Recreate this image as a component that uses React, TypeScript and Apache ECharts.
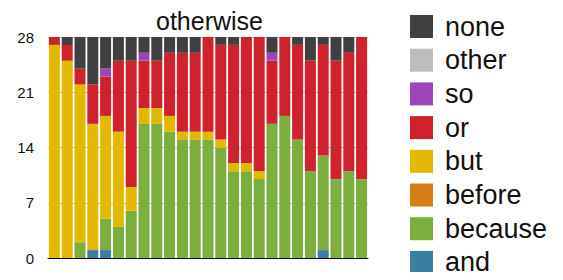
import React, { useEffect, useRef } from "react";
import * as echarts from "echarts";

const categories = Array.from({ length: 25 }, (_, i) => String(i + 1));
const seriesNames = ["and", "because", "before", "but", "or", "so", "other", "none"];
const legendOrder = ["none", "other", "so", "or", "but", "before", "because", "and"];
const colors: Record<string, string> = {
  none: "#404040",
  other: "#bdbdbd",
  so: "#9d45ba",
  or: "#d0222b",
  but: "#e3b800",
  before: "#d47f13",
  because: "#7bae3c",
  and: "#3a7ea1",
};

const andVals = [0, 0, 0, 1, 1, 0, 0, 0, 0, 0, 0, 0, 0, 0, 0, 0, 0, 0, 0, 0, 0, 1, 0, 0, 0];
const becauseVals = [0, 0, 2, 0, 4, 4, 6, 17, 17, 16, 15, 15, 15, 14, 11, 11, 10, 17, 18, 15, 11, 12, 10, 11, 10];
const beforeVals = [0, 0, 0, 0, 0, 0, 0, 0, 0, 0, 0, 0, 0, 0, 0, 0, 0, 0, 0, 0, 0, 0, 0, 0, 0];
const butVals = [27, 25, 20, 16, 13, 12, 3, 2, 2, 2, 1, 1, 1, 1, 1, 1, 1, 0, 0, 0, 0, 0, 0, 0, 0];
const orVals = [1, 2, 2, 5, 5, 9, 16, 6, 6, 8, 10, 10, 12, 12, 15, 16, 17, 8, 10, 12, 14, 14, 15, 15, 18];
const soVals = [0, 0, 0, 0, 1, 0, 0, 1, 0, 0, 0, 0, 0, 0, 0, 0, 0, 1, 0, 0, 0, 0, 0, 0, 0];
const otherVals = [0, 0, 0, 0, 0, 0, 0, 0, 0, 0, 0, 0, 0, 0, 0, 0, 0, 0, 0, 0, 0, 0, 0, 0, 0];
const noneVals = [0, 1, 4, 6, 4, 3, 3, 2, 3, 2, 2, 2, 0, 1, 1, 0, 0, 2, 0, 1, 3, 1, 3, 2, 0];
const yTicks = [0, 7, 14, 21, 28];

const valuesByName: Record<string, number[]> = {
  and: andVals,
  because: becauseVals,
  before: beforeVals,
  but: butVals,
  or: orVals,
  so: soVals,
  other: otherVals,
  none: noneVals,
};

const FONT = "'Liberation Sans', Arial, Helvetica, sans-serif";

export default function App() {
  const ref = useRef<HTMLDivElement>(null);
  useEffect(() => {
    if (!ref.current) return;
    const chart = echarts.init(ref.current, null, { renderer: "svg" });
    chart.setOption({
      animation: false,
      textStyle: { fontFamily: FONT },
      title: {
        text: "otherwise",
        left: 151,
        top: 3,
        textStyle: { fontFamily: FONT, fontSize: 25, fontWeight: "normal", color: "#111" },
      },
      legend: {
        orient: "vertical",
        left: 410,
        top: 12,
        height: 400,
        padding: 0,
        itemWidth: 23,
        itemHeight: 23,
        itemGap: 4.7,
        icon: "rect",
        data: legendOrder,
        selectedMode: false,
        textStyle: { fontFamily: FONT, fontSize: 27, color: "#111", lineHeight: 23, padding: [0, 0, 6, 7] },
      },
      grid: { left: 48, right: 195, top: 37, bottom: 22, containLabel: false },
      xAxis: {
        type: "category",
        data: categories,
        axisLabel: { show: false },
        axisTick: { show: false },
        axisLine: { show: true, lineStyle: { color: "#000", width: 1 } },
      },
      yAxis: {
        type: "value",
        min: yTicks[0],
        max: yTicks[yTicks.length - 1],
        interval: 7,
        axisLine: { show: false },
        axisTick: { show: false },
        axisLabel: { fontFamily: FONT, fontSize: 15, color: "#111", margin: 14 },
        splitLine: { show: true, lineStyle: { color: "#c4c4c4", width: 1 } },
      },
      series: seriesNames.map((name) => ({
        name,
        type: "bar",
        stack: "total",
        barCategoryGap: "14%",
        itemStyle: { color: colors[name] },
        data: valuesByName[name],
      })),
    });
    return () => chart.dispose();
  }, []);
  return <div ref={ref} style={{ width: 563, height: 280, margin: -8 }} />;
}
